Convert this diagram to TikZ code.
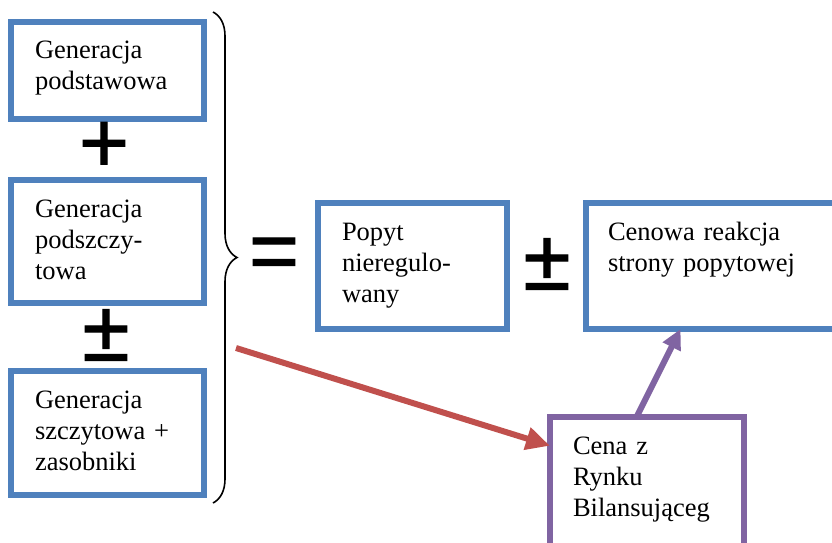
\documentclass[tikz,border=0pt]{standalone}
\usepackage{fontspec}
\setmainfont{Liberation Serif}
\newfontfamily\signfont[FakeBold=1.2]{Liberation Sans}
\usetikzlibrary{arrows.meta,decorations.pathreplacing}
\definecolor{boxblue}{RGB}{79,129,189}
\definecolor{arrowred}{RGB}{192,80,77}
\definecolor{boxpurple}{RGB}{128,100,162}
\tikzstyle{textbox}=[draw=boxblue,line width=6pt,anchor=north west,outer sep=0pt,align=left,inner xsep=24pt,inner ysep=19pt,text height=18pt,font=\fontsize{26.5}{31}\selectfont]
\tikzstyle{pricebox}=[textbox,draw=boxpurple,inner xsep=23pt]
\tikzstyle{sign}=[font=\signfont\fontsize{86}{86}\selectfont,inner sep=0pt]
\tikzstyle{redarc}=[-{Triangle[length=24pt,width=22pt]},arrowred,line width=6pt]
\tikzstyle{purplearc}=[-{Triangle[length=20pt,width=19pt]},boxpurple,line width=6pt]
\tikzstyle{bracket}=[decorate,decoration={brace,amplitude=24pt},line width=1.6pt]

\begin{document}
\begin{tikzpicture}[x=1pt,y=-1pt]
\useasboundingbox (0,0) rectangle (832,543);
\node[textbox,text width=145pt,text depth=41pt] (G1) at (11,22) {Generacja\\podstawowa};
\node[textbox,text width=145pt,text depth=67pt] (G2) at (11,180) {Generacja\\podszczy-\\towa};
\node[textbox,text width=145pt,text depth=68pt] (G3) at (11,371) {Generacja\\szczytowa +\\zasobniki};
\node[textbox,text width=141pt,text depth=70pt] (D1) at (318,203) {Popyt\\nieregulo-\\wany};
\node[textbox,inner xsep=22pt,text width=215pt,text depth=70pt] (D2) at (586,203) {Cenowa reakcja\\strony popytowej};
\node[pricebox,text width=148pt,text depth=76pt] (R1) at (550,417) {Cena z\\Rynku\\Bilansująceg};

\node[sign] (PLUS) at (104,147) {+};
\node[sign] (PM1) at (106,335) {±};
\node[sign] (EQ) at (274,259) {=};
\node[sign] (PM2) at (547,264) {±};

\coordinate (BRTOP) at (213,12);
\coordinate (BRBOTTOM) at (213,503);
\coordinate (REDSTART) at (236,348);

\draw[bracket] (BRTOP) -- (BRBOTTOM);
\draw[redarc] (REDSTART) -- (R1.159);
\draw[purplearc] (R1.99) -- (D2.241);

\end{tikzpicture}
\end{document}
